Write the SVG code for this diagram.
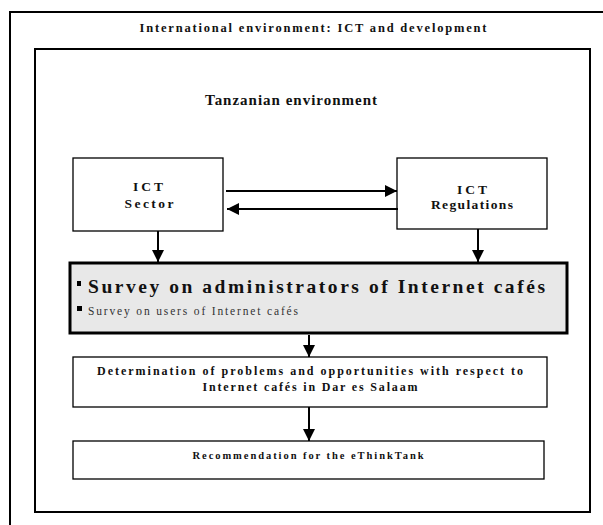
<svg xmlns="http://www.w3.org/2000/svg" width="603" height="525" viewBox="0 0 603 525">
<style>
.frame{fill:none;stroke:#000;stroke-width:2}
.box{fill:#fff;stroke:#000;stroke-width:1.3}
.t{font-family:"Liberation Serif",serif;font-weight:bold;fill:#111;text-anchor:middle}
.ln{stroke:#000;stroke-width:2;fill:none}
</style>
<defs>
<marker id="ah" viewBox="0 0 10 10" refX="10" refY="5" markerWidth="6" markerHeight="6" markerUnits="strokeWidth" orient="auto">
<path d="M0,0 L10,5 L0,10 Z" fill="#000"/>
</marker>
</defs>
<rect width="603" height="525" fill="#fff"/>
<g id="outer">
<rect class="frame" x="10" y="12" width="610" height="530"/>
<text class="t" x="313" y="32" font-size="12.5" textLength="347" lengthAdjust="spacing">International environment: ICT and development</text>
</g>
<g id="inner">
<rect class="frame" x="35" y="49" width="555" height="463"/>
<text class="t" x="291" y="105" font-size="15" textLength="172" lengthAdjust="spacing">Tanzanian environment</text>
</g>
<g id="ict-sector">
<rect class="box" x="73" y="158" width="150" height="73"/>
<text class="t" x="148" y="191" font-size="13.5" textLength="30" lengthAdjust="spacing">ICT</text>
<text class="t" x="149" y="208" font-size="13.5" textLength="49" lengthAdjust="spacing">Sector</text>
</g>
<g id="ict-regulations">
<rect class="box" x="397" y="158" width="150" height="71"/>
<text class="t" x="472" y="194" font-size="13.5" textLength="30" lengthAdjust="spacing">ICT</text>
<text class="t" x="472" y="209" font-size="13.5" textLength="82" lengthAdjust="spacing">Regulations</text>
</g>
<g id="survey">
<rect x="70" y="263" width="497" height="70" fill="#e8e8e8" stroke="#000" stroke-width="3"/>
<rect x="77" y="281" width="4" height="5" fill="#000"/>
<text class="t" x="88" y="293" font-size="19.5" style="text-anchor:start" textLength="457" lengthAdjust="spacing">Survey on administrators of Internet cafés</text>
<rect x="77" y="306" width="5" height="5" fill="#000"/>
<text x="88" y="315" font-family="'Liberation Serif',serif" font-size="11.5" fill="#333" textLength="210" lengthAdjust="spacing">Survey on users of Internet cafés</text>
</g>
<g id="determination">
<rect class="box" x="73" y="357" width="474" height="50"/>
<text class="t" x="310" y="375" font-size="12" textLength="426" lengthAdjust="spacing">Determination of problems and opportunities with respect to</text>
<text class="t" x="310" y="391" font-size="12" textLength="215" lengthAdjust="spacing">Internet cafés in Dar es Salaam</text>
</g>
<g id="recommendation">
<rect class="box" x="73" y="441" width="471" height="38"/>
<text class="t" x="308" y="459" font-size="10.5" textLength="231" lengthAdjust="spacing">Recommendation for the eThinkTank</text>
</g>
<g id="connectors">
<line class="ln" x1="226" y1="191" x2="397" y2="191" marker-end="url(#ah)"/>
<line class="ln" x1="398" y1="209" x2="227" y2="209" marker-end="url(#ah)"/>
<line class="ln" x1="158" y1="231" x2="158" y2="262" marker-end="url(#ah)"/>
<line class="ln" x1="478" y1="229" x2="478" y2="262" marker-end="url(#ah)"/>
<line class="ln" x1="309" y1="335" x2="309" y2="357" marker-end="url(#ah)"/>
<line class="ln" x1="309" y1="407" x2="309" y2="441" marker-end="url(#ah)"/>
</g>
</svg>
